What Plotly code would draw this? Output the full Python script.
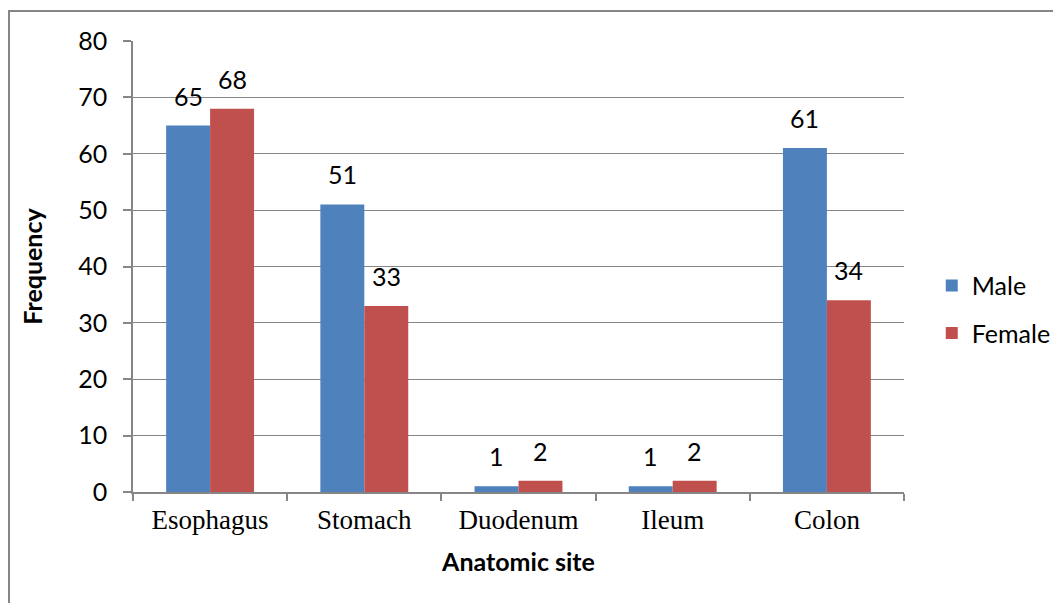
import plotly.graph_objects as go

sites = ["Esophagus", "Stomach", "Duodenum", "Ileum", "Colon"]
male = [65, 51, 1, 1, 61]
female = [68, 33, 2, 2, 34]
y_ticks = [0, 10, 20, 30, 40, 50, 60, 70, 80]

BLUE = "#4F81BD"
RED = "#C0504D"
GRAY = "#868686"
SANS = "Lato, 'Open Sans', sans-serif"
SERIF = "'Liberation Serif', 'Times New Roman', serif"
FS = 25

fig = go.Figure()
fig.add_trace(go.Bar(name="Male", x=sites, y=male, marker_color=BLUE,
                     marker_line_width=0, legendgroup="m"))
fig.add_trace(go.Bar(name="Female", x=sites, y=female, marker_color=RED,
                     marker_line_width=0, legendgroup="f"))

# data labels
for vals, dx in ((male, -22), (female, 22)):
    for s, v in zip(sites, vals):
        fig.add_annotation(x=s, y=v, xref="x", yref="y", text=str(v),
                           showarrow=False, xshift=dx, yshift=13,
                           yanchor="bottom", xanchor="center",
                           font=dict(family=SANS, size=FS, color="black"))

fig.update_layout(
    width=1053, height=595,
    margin=dict(l=125, r=157, t=33, b=111, autoexpand=False),
    paper_bgcolor="white", plot_bgcolor="white",
    barmode="group", bargap=0.43, bargroupgap=0,
    font=dict(family=SANS, size=FS, color="black"),
    showlegend=True,
    legend=dict(x=1.036, y=0.405, xanchor="left", yanchor="middle",
                font=dict(family=SANS, size=FS, color="black"),
                tracegroupgap=12, itemwidth=30),
    xaxis=dict(
        automargin=False,
        showline=True, linecolor=GRAY, linewidth=1.5,
        ticks="outside", tickson="boundaries", ticklen=7, tickcolor=GRAY, tickwidth=1.5,
        ticklabelstandoff=3,
        tickfont=dict(family=SERIF, size=27, color="black"),
        title=dict(text="<b>Anatomic site</b>", font=dict(family=SANS, size=FS, color="black"), standoff=19),
        showgrid=False,
    ),
    yaxis=dict(
        automargin=False,
        range=[0, 80], tickvals=y_ticks,
        showline=True, linecolor=GRAY, linewidth=1.5,
        ticks="outside", ticklen=8, tickcolor=GRAY, tickwidth=1.5,
        ticklabelstandoff=11,
        tickfont=dict(family=SANS, size=FS, color="black"),
        showgrid=True, gridcolor=GRAY, gridwidth=1,
        title=dict(text="<b>Frequency</b>", font=dict(family=SANS, size=FS, color="black"), standoff=28),
        zeroline=False,
    ),
)

# outer chart border
fig.add_shape(type="rect", xref="paper", yref="paper",
              x0=-0.1608, y0=-0.30, x1=1.25, y1=1.0665,
              line=dict(color=GRAY, width=2), fillcolor="rgba(0,0,0,0)", layer="above")

fig.write_html("out.html")
